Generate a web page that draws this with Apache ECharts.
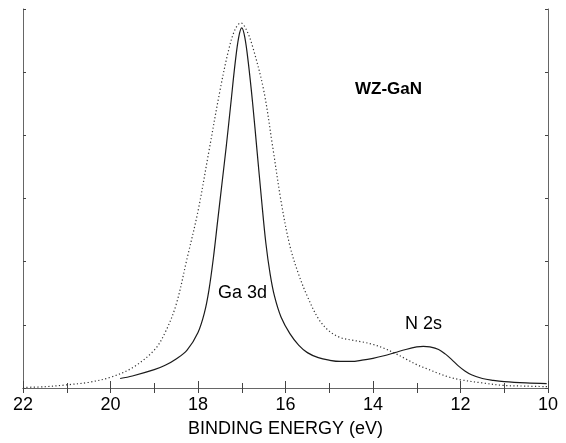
<!DOCTYPE html>
<html>
<head>
<meta charset="utf-8">
<script src="https://cdn.jsdelivr.net/npm/echarts@6/dist/echarts.min.js"></script>
<style>
  html, body { margin: 0; padding: 0; background: #fff; }
  #chart { width: 566px; height: 443px; }
</style>
</head>
<body>
<div id="chart"></div>
<script>
// binding energy (eV) and intensity (arb. units)
var xTicks = [22, 20, 18, 16, 14, 12, 10];

// solid curve
var solidE = [19.78, 19.5, 19.0, 18.75, 18.5, 18.25, 18.0, 17.85, 17.75, 17.65, 17.55, 17.45, 17.35,
  17.25, 17.15, 17.07, 17.0, 16.93, 16.85, 16.75, 16.65, 16.55, 16.45, 16.35, 16.25, 16.1, 15.9,
  15.7, 15.5, 15.25, 15.0, 14.75, 14.5, 14.25, 14.0, 13.75, 13.5, 13.25, 13.0, 12.85, 12.7, 12.5,
  12.35, 12.2, 12.05, 11.9, 11.75, 11.5, 11.25, 11.0, 10.5, 10.03];
var solidI = [0.15, 0.19, 0.29, 0.36, 0.46, 0.60, 0.88, 1.20, 1.55, 2.05, 2.65, 3.25, 3.85,
  4.50, 5.15, 5.55, 5.70, 5.55, 5.15, 4.50, 3.75, 3.00, 2.30, 1.80, 1.45, 1.12, 0.86,
  0.68, 0.56, 0.48, 0.44, 0.42, 0.42, 0.44, 0.47, 0.51, 0.56, 0.61, 0.65, 0.66, 0.65, 0.61,
  0.54, 0.45, 0.35, 0.27, 0.21, 0.15, 0.12, 0.10, 0.08, 0.07];

// dotted curve
var dottedE = [22.0, 21.5, 21.0, 20.5, 20.0, 19.5, 19.0, 18.75, 18.5, 18.25, 18.0, 17.75, 17.5,
  17.3, 17.15, 17.02, 16.9, 16.75, 16.5, 16.3, 16.1, 15.9, 15.7, 15.5, 15.25, 15.0, 14.75,
  14.5, 14.25, 14.0, 13.75, 13.5, 13.25, 13.0, 12.75, 12.5, 12.25, 12.0, 11.5, 11.0, 10.5, 10.0];
var dottedI = [0.01, 0.02, 0.05, 0.09, 0.17, 0.32, 0.60, 0.88, 1.32, 2.05, 2.80, 3.75, 4.70,
  5.35, 5.68, 5.78, 5.68, 5.40, 4.72, 3.85, 2.95, 2.25, 1.80, 1.45, 1.10, 0.90, 0.80,
  0.76, 0.73, 0.69, 0.63, 0.55, 0.46, 0.37, 0.30, 0.23, 0.17, 0.13, 0.08, 0.04, 0.03, 0.02];

var fontFam = "'Liberation Sans', Arial, sans-serif";
var frameColor = '#666';

function pairs(xs, ys) {
  return xs.map(function (x, i) { return [x, ys[i]]; });
}

var myChart = echarts.init(document.getElementById('chart'));

var option = {
  backgroundColor: '#fff',
  animation: false,
  grid: { left: 23, right: 18, top: 9, bottom: 51 },
  xAxis: [
    {
      type: 'value',
      min: 10,
      max: 22,
      interval: 2,
      inverse: true,
      position: 'bottom',
      name: 'BINDING ENERGY (eV)',
      nameLocation: 'middle',
      nameGap: 32,
      nameTextStyle: { fontSize: 18, color: '#000', fontFamily: fontFam },
      axisLine: { lineStyle: { color: frameColor, width: 1 } },
      axisTick: { inside: true, length: 7, lineStyle: { color: '#444' } },
      minorTick: { show: true, splitNumber: 2, length: 5, lineStyle: { color: '#444' } },
      axisLabel: {
        fontSize: 18, color: '#000', fontFamily: fontFam, margin: 8,
        formatter: function (v) { return xTicks.indexOf(v) >= 0 ? String(v) : ''; }
      },
      splitLine: { show: false }
    },
    {
      type: 'value',
      min: 10,
      max: 22,
      interval: 1,
      inverse: true,
      position: 'top',
      axisLine: { lineStyle: { color: frameColor, width: 1 } },
      axisTick: { inside: true, length: 5, lineStyle: { color: '#444' } },
      axisLabel: { show: false },
      splitLine: { show: false }
    }
  ],
  yAxis: [
    {
      type: 'value',
      min: 0,
      max: 6,
      interval: 1,
      position: 'left',
      axisLine: { show: true, lineStyle: { color: frameColor, width: 1 } },
      axisTick: { show: true, inside: true, length: 3, lineStyle: { color: '#444' } },
      axisLabel: { show: false },
      splitLine: { show: false }
    },
    {
      type: 'value',
      min: 0,
      max: 6,
      interval: 1,
      position: 'right',
      axisLine: { show: true, lineStyle: { color: frameColor, width: 1 } },
      axisTick: { show: true, inside: true, length: 3, lineStyle: { color: '#444' } },
      axisLabel: { show: false },
      splitLine: { show: false }
    }
  ],
  series: [
    {
      type: 'line',
      name: 'solid',
      xAxisIndex: 0,
      yAxisIndex: 0,
      data: pairs(solidE, solidI),
      showSymbol: false,
      smooth: 0.35,
      lineStyle: { color: '#1a1a1a', width: 1.2 }
    },
    {
      type: 'line',
      name: 'dotted',
      xAxisIndex: 0,
      yAxisIndex: 0,
      data: pairs(dottedE, dottedI),
      showSymbol: false,
      smooth: 0.35,
      lineStyle: { color: '#333', width: 1.2, type: [1.2, 2.4] }
    }
  ],
  graphic: [
    {
      type: 'text', left: 355, top: 81,
      style: { text: 'WZ-GaN', font: 'bold 17px ' + fontFam, fill: '#000' }
    },
    {
      type: 'text', left: 218, top: 284,
      style: { text: 'Ga 3d', font: '18px ' + fontFam, fill: '#000' }
    },
    {
      type: 'text', left: 405, top: 315,
      style: { text: 'N 2s', font: '18px ' + fontFam, fill: '#000' }
    }
  ]
};

myChart.setOption(option);
</script>
</body>
</html>
